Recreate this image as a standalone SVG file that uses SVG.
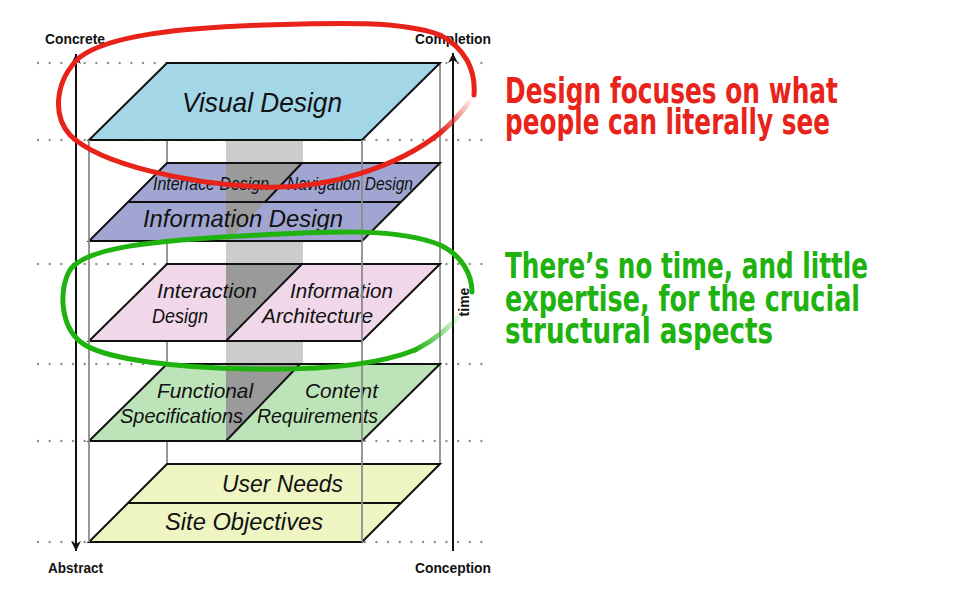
<svg xmlns="http://www.w3.org/2000/svg" width="956" height="603" viewBox="0 0 956 603">
<style>
.dots{stroke:#8f8f8f;stroke-width:2.4;stroke-linecap:round;stroke-dasharray:0 11.67;fill:none}
.back{stroke:#8c8c8c;stroke-width:1.8;fill:none}
.front{stroke:#8c8c8c;stroke-width:1.8;fill:none}
.edge{fill:none;stroke:#111;stroke-width:2;stroke-linejoin:miter}
.div{stroke:#111;stroke-width:2;fill:none}
.dark{fill:#9a9a9a}
.lbl{font-family:"Liberation Sans Narrow","Liberation Sans",Arial,sans-serif;font-style:italic;fill:#111}
.axis{font-family:"Liberation Sans",Arial,sans-serif;font-weight:bold;font-size:14px;fill:#111}
.ax{stroke:#111;stroke-width:2;fill:none}
.note{font-family:"DejaVu Sans Condensed","DejaVu Sans",sans-serif;font-weight:bold;font-size:35px}
.loop{fill:none;stroke-width:5;stroke-linecap:round}
</style>
<defs>
<marker id="ah" viewBox="0 0 10 10" refX="10" refY="5" markerWidth="12" markerHeight="10" markerUnits="userSpaceOnUse" orient="auto-start-reverse">
<path d="M0,0 L10,5 L0,10 L3,5 z" fill="#111"/>
</marker>
<linearGradient id="redfade" gradientUnits="userSpaceOnUse" x1="440" y1="133" x2="472" y2="97">
<stop offset="0" stop-color="#e8231a" stop-opacity="1"/>
<stop offset="1" stop-color="#e8231a" stop-opacity="0"/>
</linearGradient>
<linearGradient id="greenfade" gradientUnits="userSpaceOnUse" x1="415" y1="350" x2="462" y2="312">
<stop offset="0" stop-color="#20b20e" stop-opacity="1"/>
<stop offset="1" stop-color="#20b20e" stop-opacity="0"/>
</linearGradient>
</defs>
<rect width="956" height="603" fill="#fff"/>

<g id="grid">
<line class="dots" x1="38" y1="63" x2="492" y2="63"/>
<line class="dots" x1="38" y1="140" x2="492" y2="140"/>
<line class="dots" x1="38" y1="264" x2="492" y2="264"/>
<line class="dots" x1="38" y1="364" x2="492" y2="364"/>
<line class="dots" x1="38" y1="441" x2="492" y2="441"/>
<line class="dots" x1="38" y1="542" x2="492" y2="542"/>
<line class="back" x1="167" y1="63" x2="167" y2="464"/>
<line class="back" x1="440" y1="63" x2="440" y2="464"/>
<rect x="226" y="140" width="77" height="301" fill="#cccccc"/>
</g>

<g id="visual-design">
<polygon points="167,63 440,63 362,140 89,140" fill="#a3d6e7"/>
<polygon class="edge" points="167,63 440,63 362,140 89,140"/>
<text class="lbl" x="182" y="112" font-size="28" textLength="160" lengthAdjust="spacingAndGlyphs">Visual Design</text>
</g>

<g id="interface-information-design">
<polygon points="167,163 440,163 362,241 89,241" fill="#a0a6d1"/>
<polygon class="dark" points="226,163 302,163 265,202 228,241 226,241"/>
<polygon class="edge" points="167,163 440,163 362,241 89,241"/>
<line class="div" x1="128" y1="202" x2="401" y2="202"/>
<line class="div" x1="302" y1="163" x2="265" y2="202"/>
<text class="lbl" x="153" y="190" font-size="18" textLength="116" lengthAdjust="spacingAndGlyphs">Interface Design</text>
<text class="lbl" x="287" y="190" font-size="18" textLength="126" lengthAdjust="spacingAndGlyphs">Navigation Design</text>
<text class="lbl" x="143" y="227" font-size="24" textLength="200" lengthAdjust="spacingAndGlyphs">Information Design</text>
</g>

<g id="interaction-ia">
<polygon points="167,264 440,264 362,341 89,341" fill="#f0d8ea"/>
<polygon class="dark" points="226,264 302,264 226,341"/>
<polygon class="edge" points="167,264 440,264 362,341 89,341"/>
<line class="div" x1="302" y1="264" x2="226" y2="341"/>
<text class="lbl" x="157" y="298" font-size="21" textLength="100" lengthAdjust="spacingAndGlyphs">Interaction</text>
<text class="lbl" x="152" y="323" font-size="21" textLength="56" lengthAdjust="spacingAndGlyphs">Design</text>
<text class="lbl" x="290" y="298" font-size="21" textLength="103" lengthAdjust="spacingAndGlyphs">Information</text>
<text class="lbl" x="262" y="323" font-size="21" textLength="111" lengthAdjust="spacingAndGlyphs">Architecture</text>
</g>

<g id="functional-content">
<polygon points="167,364 440,364 362,441 89,441" fill="#bde4b8"/>
<polygon class="dark" points="226,364 300,364 226,441"/>
<polygon class="edge" points="167,364 440,364 362,441 89,441"/>
<line class="div" x1="300" y1="364" x2="226" y2="441"/>
<text class="lbl" x="157" y="398" font-size="21" textLength="96" lengthAdjust="spacingAndGlyphs">Functional</text>
<text class="lbl" x="120" y="423" font-size="21" textLength="123" lengthAdjust="spacingAndGlyphs">Specifications</text>
<text class="lbl" x="305" y="398" font-size="21" textLength="73" lengthAdjust="spacingAndGlyphs">Content</text>
<text class="lbl" x="257" y="423" font-size="21" textLength="121" lengthAdjust="spacingAndGlyphs">Requirements</text>
</g>

<g id="user-site">
<polygon points="167,464 440,464 362,542 89,542" fill="#eff5c2"/>
<polygon class="edge" points="167,464 440,464 362,542 89,542"/>
<line class="div" x1="128" y1="503" x2="401" y2="503"/>
<text class="lbl" x="222" y="492" font-size="23" textLength="121" lengthAdjust="spacingAndGlyphs">User Needs</text>
<text class="lbl" x="165" y="530" font-size="23" textLength="158" lengthAdjust="spacingAndGlyphs">Site Objectives</text>
</g>

<g id="front-edges">
<line class="front" x1="89" y1="140" x2="89" y2="542"/>
<line class="front" x1="362" y1="140" x2="362" y2="542"/>
</g>

<g id="connectors">
<line class="ax" x1="76" y1="54" x2="76" y2="551" marker-start="url(#ah)" marker-end="url(#ah)"/>
<line class="ax" x1="453" y1="551" x2="453" y2="53" marker-end="url(#ah)"/>
</g>

<g id="axis-labels">
<text class="axis" x="45" y="44" textLength="60" lengthAdjust="spacingAndGlyphs">Concrete</text>
<text class="axis" x="415" y="44" textLength="76" lengthAdjust="spacingAndGlyphs">Completion</text>
<text class="axis" x="48" y="573" textLength="55" lengthAdjust="spacingAndGlyphs">Abstract</text>
<text class="axis" x="415" y="573" textLength="76" lengthAdjust="spacingAndGlyphs">Conception</text>
<text class="axis" transform="translate(469,302) rotate(-90)" text-anchor="middle">time</text>
</g>

<g id="red-note">
<path class="loop" stroke="#e8231a" d="M440,133 C400,165 330,190 262,187 C190,184 100,165 70,135 C52,115 55,80 80,57 C110,35 180,28 263,25 C330,23 400,20 440,35 C465,48 476,70 474,95"/>
<path class="loop" stroke="url(#redfade)" stroke-width="3" d="M440,133 C455,120 466,108 472,97"/>
<text class="note" fill="#e8231a" x="505" y="103" textLength="333" lengthAdjust="spacingAndGlyphs">Design focuses on what</text>
<text class="note" fill="#e8231a" x="505" y="134" textLength="325" lengthAdjust="spacingAndGlyphs">people can literally see</text>
</g>

<g id="green-note">
<path class="loop" stroke="#20b20e" d="M415,350 C370,368 300,370 250,369 C180,368 110,360 85,345 C60,330 58,290 70,270 C85,248 150,240 260,235 C330,231 400,228 440,245 C462,255 472,275 472,292"/>
<path class="loop" stroke="url(#greenfade)" stroke-width="3" d="M415,350 C435,340 452,325 462,312"/>
<text class="note" fill="#20b20e" x="505" y="278" textLength="363" lengthAdjust="spacingAndGlyphs">There’s no time, and little</text>
<text class="note" fill="#20b20e" x="505" y="311" textLength="355" lengthAdjust="spacingAndGlyphs">expertise, for the crucial</text>
<text class="note" fill="#20b20e" x="505" y="343" textLength="268" lengthAdjust="spacingAndGlyphs">structural aspects</text>
</g>
</svg>
